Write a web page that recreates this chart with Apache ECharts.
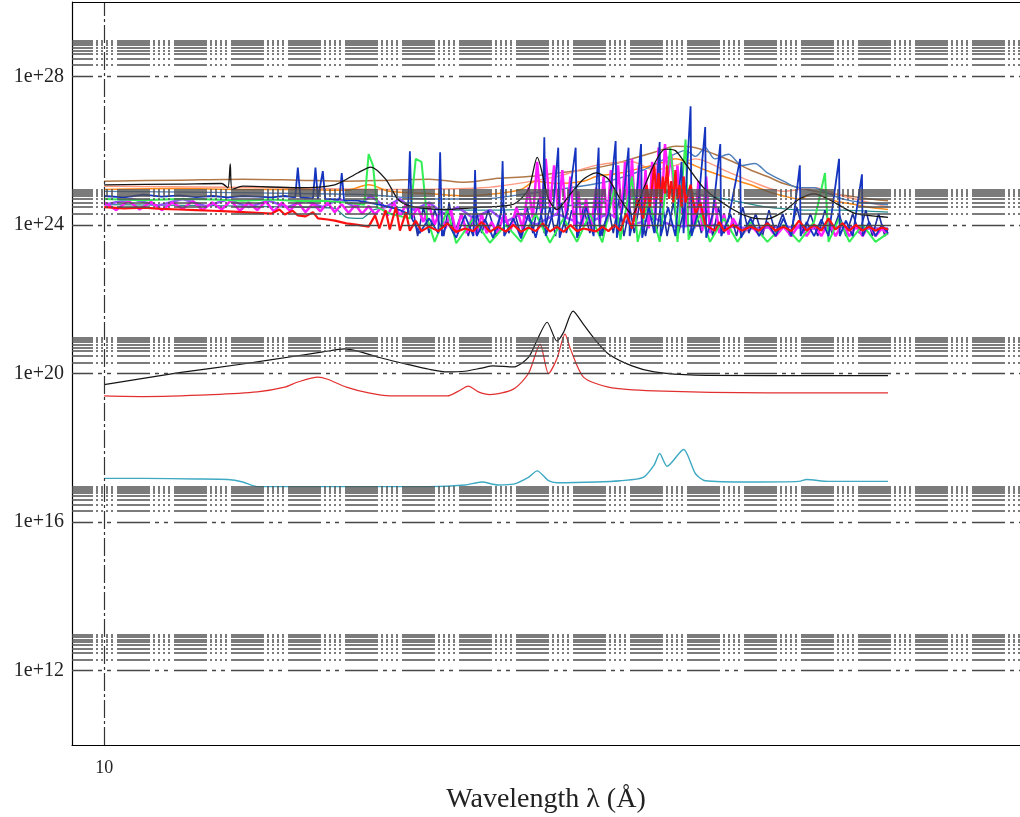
<!DOCTYPE html>
<html><head><meta charset="utf-8">
<script src="https://cdn.jsdelivr.net/npm/echarts@6/dist/echarts.min.js"></script>
<style>html,body{margin:0;padding:0;background:#fff}#c{width:1020px;height:817px}</style>
</head><body><div id="c"></div>
<script>
// ---- axis ticks ----
const yTicks = [1e12, 1e16, 1e20, 1e24, 1e28];
const yTickLabels = ['1e+12', '1e+16', '1e+20', '1e+24', '1e+28'];
const yMinorMult = [2, 3, 4, 5, 6, 7, 8, 9];
const xTicks = [10];
const xTickLabels = ['10'];
const yRange = [1e10, 1e30];
const xRange = [9.25, 92.3];

// ---- upper band spectra [wavelength Å, value] ----
const brownTop = [[10,1.5e25],[12,1.6e25],[14,1.7e25],[16,1.6e25],[18,1.5e25],[20,1.6e25],[22,1.7e25],[24,1.4e25],[26,1.8e25],[28,2e25],[30,2.5e25],[32,3e25],[34,4e25],[36,6e25],[38,9e25],[40,1.3e26],[42,1.2e26],[44,8e25],[46,5e25],[48,3e25],[50,2e25],[52,1.3e25],[55,9e24],[58,7e24],[61,6e24],[64,5e24],[67,4.5e24]];
const orangeTop = [[10,9e24],[12,9.5e24],[14,9e24],[16,9e24],[18,8.5e24],[19,1.2e25],[20,8e24],[22,7e24],[24,6e24],[26,7e24],[27.5,9e24],[28.5,1.5e25],[30,1.3e25],[32,1.5e25],[33,2e25],[35,2.5e25],[37,3.5e25],[39,5e25],[40,6e25],[41,5e25],[43,3e25],[45,2e25],[48,1.2e25],[50,8e24],[52,6e24],[54,5e24],[56,7e24],[58,5e24],[60,4e24],[62,3.5e24],[64,3e24],[67,2.6e24]];
const steelTop = [[10,8e24],[13,7.5e24],[16,7e24],[19,6.5e24],[22,5e24],[25,5e24],[28,7e24],[31,1e25],[34,1.5e25],[37,3e25],[39,6e25],[41,1e26],[42,7e25],[43,1.2e26],[44,6e25],[45.5,8e25],[47,4e25],[48.5,4.5e25],[50,2.5e25],[52,1.5e25],[54,1e25],[56,1e25],[58,7e24],[60,5e24],[63,4e24],[67,3.5e24]];
const salmonTop = [[10,1.1e25],[15,1e25],[20,9e24],[25,1e25],[30,2e25],[33,4e25],[36,5e25],[38,3e25],[40,4e25],[42,6e25],[45,3e25],[48,1.5e25],[52,8e24],[56,1e25],[60,6e24],[64,4e24],[67,3e24]];
const tealTop = [[10,3.5e24],[13,3.3e24],[16,3e24],[17.5,2.8e24],[18,1.6e24],[18.7,1.5e24],[19.2,2.5e24],[20,3e24],[23,2.5e24],[26,2.5e24],[30,3e24],[35,5e24],[40,8e24],[45,5e24],[50,3e24],[55,2.5e24],[60,2.5e24],[67,2.2e24]];
const violetTop = [[10,3.5e24],[10.7,5e24],[11.4,3.3e24],[12.1,5e24],[12.8,3.2e24],[13.5,4.8e24],[14.2,3e24],[14.9,4.5e24],[15.6,3e24],[16.3,4.5e24],[17,3e24],[17.7,5e24],[18.4,3e24],[19.1,6e24],[19.8,3e24],[20.5,5e24],[21.2,2.5e24],[22,4e24],[22.8,2e24],[23.6,3e24],[24.5,1.5e24],[25.5,2.5e24],[26.5,1.2e24],[27.5,2e24],[28.5,1e24],[30,2e24],[32,1e24],[34,2e24],[36,1e24],[38,1.5e24],[40,9e23],[44,1e24],[48,8e23],[52,9e23],[56,8e23],[60,9e23],[64,8e23],[67,8e23]];
const magentaTop = [[10,4e24],[10.3,2.5e24],[10.6,4.5e24],[10.9,2.6e24],[11.2,4.2e24],[11.5,2.5e24],[11.8,4e24],[12.1,2.7e24],[12.4,4.4e24],[12.7,2.5e24],[13,4e24],[13.3,2.6e24],[13.6,4.5e24],[13.9,2.4e24],[14.2,4e24],[14.5,2.5e24],[14.8,4.3e24],[15.1,2.3e24],[15.4,4e24],[15.7,2.4e24],[16,4.2e24],[16.3,2.2e24],[16.6,3.8e24],[16.9,2.3e24],[17.2,4e24],[17.5,2.2e24],[17.8,3.6e24],[18.1,2.1e24],[18.4,3.5e24],[18.7,2e24],[19,3.2e24],[19.3,1.9e24],[19.6,3e24],[19.9,1.8e24],[20.2,4e24],[20.5,1.7e24],[20.8,3.5e24],[21.1,1.5e24],[21.4,3e24],[21.7,1.2e24],[22,3.5e24],[22.3,1e24],[22.6,2.5e24],[22.9,8e23],[23.2,2.5e24],[23.5,6e23],[23.8,2e24],[24.1,6e23],[24.4,1.5e24],[24.7,5.5e23],[25,2e24],[25.3,6e23],[25.6,1.2e24],[26,6e23],[26.4,2e24],[26.8,7e23],[27.2,3e24],[27.6,8e23],[28,1e25],[28.3,1.5e24],[28.6,5e25],[28.9,2e24],[29.2,6e25],[29.5,3e24],[29.8,4e25],[30.1,2e24],[30.4,3e25],[30.7,1.5e24],[31,2e25],[31.3,1e24],[31.6,8e24],[31.9,9e23],[32.2,5e24],[32.6,8e23],[33,1e25],[33.3,1e24],[33.6,2e25],[33.9,1.2e24],[34.2,3e25],[34.5,1.5e24],[34.8,4e25],[35.1,2e24],[35.4,5e25],[35.7,1.5e24],[36,6e25],[36.3,1.2e24],[36.6,4e25],[36.9,1e24],[37.2,3e25],[37.5,8e23],[37.8,5e25],[38.1,1.5e24],[38.4,1.2e26],[38.7,3e24],[39,1.5e26],[39.3,2e25],[39.6,8e25],[39.9,5e24],[40.2,4e25],[40.5,2e24],[40.8,2e25],[41.1,1e24],[41.5,1e25],[41.9,8e23],[42.3,1.5e25],[42.7,7e23],[43.1,2e25],[43.5,6e23],[44,5e24],[44.5,6e23],[45,2e24],[45.5,5.5e23],[46,1.5e24],[47,5.5e23],[48,1e24],[49,5.5e23],[50,1e24],[51,5e23],[52,9e23],[53,5e23],[54,1e24],[55,5e23],[56,1e24],[57,5e23],[58,1.2e24],[59,5e23],[60,1.1e24],[61,5e23],[62,9e23],[63,5e23],[64,1e24],[65,5e23],[66,8e23],[67,5.5e23]];
const navyTop = [[21.2,2e24],[21.4,5e23],[21.7,3e24],[22,6e23],[22.3,2.5e24],[22.8,5e23],[23.1,4e24],[23.4,6e23],[23.8,2e24],[24.2,5e23],[24.6,3e24],[25,6e23],[25.4,2.5e24],[25.9,5e23],[26.3,4e24],[26.7,6e23],[27.1,2e24],[27.5,5e23],[27.9,3e24],[28.3,6e23],[28.7,5e24],[29.1,6e23],[29.5,3e24],[29.9,5e23],[30.3,4e24],[30.7,6e23],[31.1,2.5e24],[31.6,5e23],[32,3e24],[32.5,6e23],[33,4e24],[33.5,5e23],[34,3e24],[34.4,6e23],[34.9,5e24],[35.3,5e23],[35.8,3e24],[36.2,6e23],[36.7,4e24],[37.2,5e23],[37.7,3e24],[38.2,6e23],[38.7,5e24],[39.2,5e23],[39.8,4e24],[40.3,6e23],[40.9,3e24],[41.4,5e23],[42,3e24],[42.6,6e23],[43.2,2.5e24],[43.8,5e23],[44.4,3e24],[45,6e23],[45.7,2e24],[46.4,5e23],[47.1,3e24],[47.8,6e23],[48.6,2e24],[49.4,5e23],[50.2,2.5e24],[51,6e23],[51.9,2e24],[52.8,5e23],[53.7,3e24],[54.6,6e23],[55.5,2e24],[56.5,5e23],[57.5,2.5e24],[58.5,6e23],[59.5,2e24],[60.5,5e23],[61.5,2e24],[62.5,6e23],[63.5,2.5e24],[64.5,5e23],[65.5,2e24],[66.5,5e23],[67,8e23]];
const greenTop = [[10,5e24],[11,4.6e24],[12,5e24],[13,4.8e24],[14,4.5e24],[15,4.8e24],[16,4.4e24],[17,4.5e24],[18,4e24],[18.8,3.5e24],[19,8e25],[19.2,4e25],[19.4,3e24],[20,2e24],[21,1.5e24],[21.3,6e25],[21.6,5e25],[21.9,1.5e24],[22.3,3.5e23],[23,2.5e24],[23.5,3.2e23],[24.5,1.5e24],[25.5,3.3e23],[26.5,1e24],[27.5,3.5e23],[28.5,2e24],[29.5,3.3e23],[30.5,1.5e24],[31.5,3.5e23],[32.5,2e24],[33.5,3.4e23],[34.5,1e25],[35,4e23],[36,2e25],[36.5,3.5e23],[37.5,5e24],[38.5,3.5e23],[39.5,1.2e26],[39.8,2e25],[40.2,3.5e23],[41,2e26],[41.3,4e23],[42.5,2e24],[43.5,3.5e23],[45,1.5e24],[46.5,3.5e23],[48,1.2e24],[50,3.5e23],[52,1e24],[54,3.5e23],[56,1.2e24],[57.5,2.5e25],[58,3.5e23],[59.5,1.5e24],[61,3.5e23],[63,1e24],[65,3.5e23],[67,6e23]];
const blueTop = [[10,6e24],[10.5,5.5e24],[11,6.5e24],[11.5,5.8e24],[12,6.2e24],[12.5,5.6e24],[13,6e24],[13.5,5.5e24],[14,6e24],[14.5,5.8e24],[15,5.5e24],[15.5,6e24],[15.9,5.5e24],[16,3.5e25],[16.1,5.5e24],[16.6,5.2e24],[16.7,3.5e25],[16.8,5e24],[17,2.8e25],[17.1,5e24],[17.7,4.8e24],[17.8,2.5e25],[17.9,4.6e24],[18.5,4.5e24],[19,4e24],[19.5,3.5e24],[20,3e24],[20.5,2.5e24],[20.9,2e24],[21,9.6e25],[21.1,1.5e24],[21.5,6e23],[22,1.5e24],[22.5,6e23],[22.6,9e25],[22.7,5e23],[23,1.2e24],[23.5,4.5e23],[24,1.8e24],[24.5,5e23],[24.6,3e25],[24.7,5e23],[25.2,1.4e24],[25.7,4.5e23],[26.2,2e24],[26.3,5.2e25],[26.4,5e23],[27,1.5e24],[27.5,4.3e23],[28,2e24],[28.5,4.5e23],[29,3e24],[29.1,2.3e26],[29.2,5e23],[29.7,2e24],[30.1,1.2e26],[30.2,4.5e23],[30.8,2.5e24],[31.4,1.2e26],[31.5,4.5e23],[32.2,3e24],[32.8,5e23],[33.2,1.2e26],[33.3,5e23],[34,2e24],[34.6,1.8e26],[34.7,4.5e23],[35.2,3e24],[35.7,1.2e26],[35.8,5e23],[36.3,2.5e24],[36.8,1.5e26],[36.9,4.5e23],[37.5,3e24],[38,6e23],[38.5,1.7e26],[38.6,5e23],[39.3,3e24],[40,5e23],[40.6,5e25],[40.8,6e23],[41.5,1.56e27],[41.6,5e23],[42.2,2e24],[43,4.3e26],[43.1,4.5e23],[43.8,2e24],[44.6,1.5e26],[44.7,5e23],[45.5,1.5e24],[46.8,6e25],[46.9,4.5e23],[48,1.5e24],[49,5e23],[50,1.2e24],[51,5e23],[52,1.5e24],[53,5e23],[54.1,4e25],[54.2,5e23],[55,1.2e24],[56,5e23],[57,1.4e24],[58,5e23],[59.5,6e25],[59.6,5e23],[60.5,1.3e24],[61.5,5e23],[62.9,2.3e25],[63,5e23],[64,1.2e24],[65,5e23],[66,1e24],[67,6e23]];
const redTop = [[10,3e24],[10.5,2.8e24],[11,2.9e24],[11.5,2.7e24],[12,2.6e24],[12.5,2.5e24],[13,2.4e24],[13.5,2.3e24],[14,2.2e24],[14.5,2.1e24],[15,2e24],[15.3,2.6e24],[15.5,1.9e24],[15.8,2.4e24],[16,1.8e24],[16.3,1.7e24],[16.6,2.2e24],[16.8,1.5e24],[17.2,1.4e24],[17.5,1.3e24],[18,1.1e24],[18.5,1e24],[19,9e23],[19.3,1.8e24],[19.5,8e23],[19.8,2.5e24],[20,7.5e23],[20.3,3e24],[20.5,7e23],[20.8,2.2e24],[21,7e23],[21.3,1.3e24],[21.6,6.8e23],[22,9e23],[22.5,6.8e23],[23,1.1e24],[23.5,6.5e23],[24,8e23],[24.5,6.8e23],[25,1.2e24],[25.5,6.5e23],[26,9e23],[26.5,6.6e23],[27,1e24],[27.5,6.5e23],[28,8.5e23],[28.5,6.8e23],[29,1.1e24],[29.5,6.6e23],[30,9e23],[30.5,6.5e23],[31,1e24],[31.5,6.8e23],[32,8e23],[33,6.7e23],[33.5,9e23],[34,6.8e23],[34.5,1e24],[35,7e23],[35.5,2e24],[36,8e23],[36.5,5e24],[37,1.5e24],[37.3,1.2e25],[37.6,3e24],[38,4e25],[38.2,5e24],[38.4,2.5e25],[38.6,4e24],[38.8,2e25],[39,7e24],[39.2,4e25],[39.4,5e24],[39.6,1.5e25],[39.8,4e24],[40,3e25],[40.2,5e24],[40.4,1.2e25],[40.6,3e24],[40.8,2e25],[41,4e24],[41.5,1.2e25],[42,2e24],[42.5,4e24],[43,1e24],[44,7e23],[44.5,1.2e24],[45,6.8e23],[46,1e24],[47,7e23],[48,9e23],[49,7e23],[50,1.1e24],[51,7e23],[52,9e23],[53,6.8e23],[54,1.3e24],[55,7e23],[56,1e24],[57,7e23],[58,1.5e24],[59,7.5e23],[60,1.1e24],[61,7e23],[62,1e24],[63,7e23],[64,9e23],[65,7e23],[66,8.5e23],[67,7.5e23]];
const blackTop = [[10,1.2e25],[12,1.25e25],[13.3,1.3e25],[13.5,1e25],[13.58,4.4e25],[13.65,9e24],[14,1.1e25],[16,1e25],[17.5,1.2e25],[18.5,2.5e25],[19.1,3.6e25],[19.8,1.7e25],[20.4,4.9e24],[21,3.2e24],[23,2.6e24],[25,3e24],[27,3.6e24],[28,9e24],[28.6,6.6e25],[29.4,4.9e24],[30,2.6e24],[31,6.8e24],[32,1.7e25],[33,2.5e25],[34,1.7e25],[35,4.9e24],[36,1.9e24],[37,9e24],[38,4.4e25],[39,1.1e26],[40,1e26],[41,4.4e25],[43,9e24],[46,2.6e24],[48,1.6e24],[50,1.45e24],[52,2.3e24],[54,4.9e24],[56,6.8e24],[58,4.9e24],[60,3e24],[62,2e24],[67,1.6e24]];

// ---- lower curves ----
const lowerBlack = [[10,5e19],[12,1.05e20],[14,1.8e20],[16,3e20],[17,3.8e20],[17.9,4.6e20],[18.5,4e20],[19.5,2.7e20],[21,1.7e20],[22,1.3e20],[23,1.1e20],[24,1.15e20],[25,1.4e20],[25.7,1.6e20],[27,1.5e20],[28,2.7e20],[28.6,8e20],[29.3,2.4e21],[30,7.5e20],[30.5,1.3e21],[31.2,4.8e21],[32,2.1e21],[33,7.5e20],[34,3.35e20],[36,1.6e20],[38,1.1e20],[42,9e19],[50,8.8e19],[60,8.8e19],[67,8.8e19]];
const lowerRed = [[10,2.5e19],[11,2.4e19],[13,2.7e19],[14.5,3.2e19],[15.5,4.3e19],[16,5.9e19],[16.8,8e19],[17.2,7e19],[18,4.3e19],[19,3e19],[20,2.5e19],[23,2.5e19],[23.6,3.3e19],[24.2,4.6e19],[24.8,3.2e19],[25.5,2.7e19],[27,3.8e19],[28,1e20],[28.8,6.2e20],[29.4,1e20],[30,2.5e20],[30.6,1.15e21],[31,4.6e20],[32,8e19],[34,4.3e19],[38,3.4e19],[50,3e19],[67,3e19]];
const lowerCyan = [[10,1.5e17],[11,1.5e17],[12.5,1.45e17],[13.5,1.4e17],[14,1.2e17],[14.5,9e16],[15,9e16],[18,9e16],[22,9e16],[24,1e17],[25,1.2e17],[26,1e17],[27,1.05e17],[28,1.6e17],[28.6,2.4e17],[29.4,1.3e17],[30,1.15e17],[33,1.2e17],[35,1.3e17],[37,1.6e17],[38,3.5e17],[38.5,7e17],[39.2,3.2e17],[40.8,9e17],[42,2e17],[43,1.3e17],[48,1.2e17],[54,1.25e17],[55,1.4e17],[58,1.25e17],[62,1.25e17],[67,1.25e17]];

const serif = '"Liberation Serif","DejaVu Serif",serif';
const minorStyle = {color:'#505050', width:1.6, type:[33,3,2,3,2,3,2,3,2,4], dashOffset:12};
const majorStyle = {color:'#474747', width:1.4, type:[33,5,4,5,4,6], dashOffset:12};
const gridLines = [];
yTicks.forEach(v => {
  gridLines.push({yAxis: v, lineStyle: majorStyle});
  yMinorMult.forEach(m => gridLines.push({yAxis: v * m, lineStyle: minorStyle}));
});
xTicks.forEach(v => gridLines.push({xAxis: v, lineStyle: {color:'#333', width:1.2, type:[18,3,3,3]}}));
// top frame edge
gridLines.push({yAxis: yRange[1], lineStyle: {color:'#000', width:1, type:'solid'}});

function ln(name, data, color, width, smooth) {
  return {name, type:'line', data, showSymbol:false, symbol:'none', smooth: smooth || false,
    lineStyle:{color, width: width || 1}, silent:true};
}

const chart = echarts.init(document.getElementById('c'));
chart.setOption({
  animation:false,
  backgroundColor:'#fff',
  grid:{left:72, right:0, top:2, bottom:72, show:false, containLabel:false, outerBoundsMode:'none'},
  xAxis:{type:'log', min:xRange[0], max:xRange[1], logBase:10,
    name:'Wavelength λ (Å)', nameLocation:'middle', nameGap:41,
    nameTextStyle:{fontFamily:serif, fontSize:28, color:'#222'},
    axisLine:{show:true, onZero:false, lineStyle:{color:'#000', width:1.2}}, axisTick:{show:false}, splitLine:{show:false}, minorSplitLine:{show:false},
    axisLabel:{customValues: xTicks, formatter: v => xTickLabels[xTicks.indexOf(v)] || '', fontFamily:serif, fontSize:18, color:'#222', margin:14}},
  yAxis:{type:'log', min:yRange[0], max:yRange[1], logBase:10,
    axisLine:{show:true, onZero:false, lineStyle:{color:'#000', width:1.2}}, axisTick:{show:false}, splitLine:{show:false},
    axisLabel:{customValues: yTicks, formatter: v => { const i = yTicks.findIndex(t => Math.abs(Math.log10(t) - Math.log10(v)) < 1e-6); return i >= 0 ? yTickLabels[i] : ''; },
      fontFamily:serif, fontSize:20, color:'#222', margin:8}},
  series:[
    {name:'grid', type:'line', data:[], silent:true,
      markLine:{silent:true, symbol:'none', animation:false, label:{show:false}, data:gridLines}},
    ln('brown', brownTop, '#b07848', 1.5, 0.3),
    ln('salmon', salmonTop, '#ff9a80', 1.4, 0.3),
    ln('orange', orangeTop, '#ff8a1a', 1.5, 0.3),
    ln('steel', steelTop, '#4f7fb8', 1.4, 0.3),
    ln('teal', tealTop, '#2a8f8f', 1.3, 0.2),
    ln('violet', violetTop, '#9a4dff', 2.5),
    ln('navy', navyTop, '#1c2fa0', 1.6),
    ln('magenta', magentaTop, '#ff1cff', 2.5),
    ln('green', greenTop, '#33ee55', 2),
    ln('blue', blueTop, '#1535c0', 1.8),
    ln('red', redTop, '#ff1010', 2.2),
    ln('black', blackTop, '#151515', 1.3, 0.25),
    ln('lowerBlack', lowerBlack, '#151515', 1.2, 0.25),
    ln('lowerRed', lowerRed, '#e23030', 1.2, 0.25),
    ln('lowerCyan', lowerCyan, '#3ea9c2', 1.4, 0.25)
  ]
});
</script></body></html>
